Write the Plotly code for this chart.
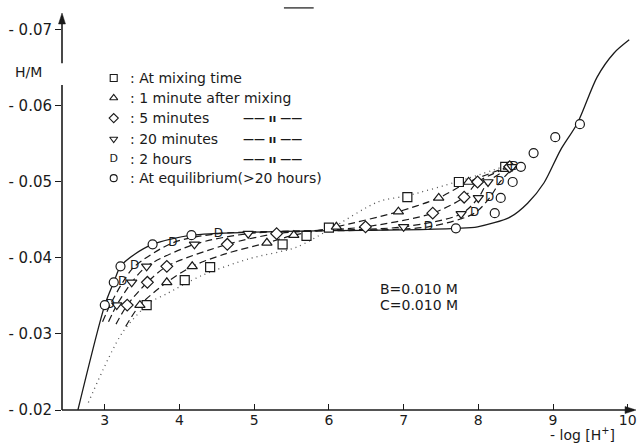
import plotly.graph_objects as go

# ---- measured data: -log[H+] (x) and H/M (y) ----
mix_x = [3.56, 4.07, 4.41, 5.38, 5.70, 6.00, 7.05, 7.74, 8.36]
mix_y = [-0.0338, -0.0371, -0.0388, -0.0418, -0.0429, -0.0440, -0.0480, -0.0500, -0.0520]

min1_x = [3.47, 3.83, 4.17, 5.17, 5.53, 6.10, 6.93, 7.47, 7.87, 8.40]
min1_y = [-0.0338, -0.0368, -0.0389, -0.0420, -0.0430, -0.0441, -0.0461, -0.0479, -0.0500, -0.0520]

min5_x = [3.30, 3.57, 3.83, 4.64, 5.30, 6.49, 7.39, 7.81, 7.99, 8.42]
min5_y = [-0.0338, -0.0368, -0.0389, -0.0418, -0.0432, -0.0441, -0.0459, -0.0480, -0.0500, -0.0520]

min20_x = [3.16, 3.36, 3.56, 4.20, 4.92, 7.00, 7.77, 8.00, 8.13, 8.45]
min20_y = [-0.0338, -0.0368, -0.0389, -0.0418, -0.0432, -0.0441, -0.0458, -0.0479, -0.0500, -0.0520]

hr2_x = [3.07, 3.24, 3.40, 3.91, 4.52, 7.33, 7.95, 8.15, 8.29, 8.48]
hr2_y = [-0.0338, -0.0368, -0.0389, -0.0420, -0.0432, -0.0441, -0.0459, -0.0479, -0.0500, -0.0520]

eq_x = [3.00, 3.12, 3.21, 3.64, 4.16, 7.70, 8.22, 8.30, 8.46, 8.57, 8.74, 9.03, 9.36]
eq_y = [-0.0338, -0.0368, -0.0389, -0.0418, -0.0430, -0.0439, -0.0459, -0.0479, -0.0500,
        -0.0520, -0.0538, -0.0559, -0.0576]

# ---- calculated curves ----
calc_mix_x = [2.78, 3.23, 3.60, 3.83, 4.30, 4.93, 5.56, 6.00, 6.66, 7.05, 7.74, 8.36]
calc_mix_y = [-0.0210, -0.0301, -0.0341, -0.0353, -0.0377, -0.0399, -0.0414, -0.0437,
              -0.0474, -0.0482, -0.0501, -0.0521]

calc_min1_x = [3.28, 3.47, 3.83, 4.17, 4.60, 5.17, 5.53, 6.10, 6.93, 7.47, 7.87, 8.40]
calc_min1_y = [-0.0310, -0.0338, -0.0368, -0.0389, -0.0405, -0.0420, -0.0430, -0.0441,
               -0.0461, -0.0479, -0.0500, -0.0520]

calc_min5_x = [3.15, 3.30, 3.57, 3.83, 4.64, 5.30, 6.49, 7.39, 7.81, 7.99, 8.42]
calc_min5_y = [-0.0313, -0.0338, -0.0368, -0.0389, -0.0418, -0.0432, -0.0441, -0.0459,
               -0.0480, -0.0500, -0.0520]

calc_min20_x = [3.05, 3.16, 3.36, 3.56, 4.20, 4.92, 7.00, 7.77, 8.00, 8.13, 8.45]
calc_min20_y = [-0.0316, -0.0338, -0.0368, -0.0389, -0.0418, -0.0432, -0.0441, -0.0458,
                -0.0479, -0.0500, -0.0520]

calc_hr2_x = [2.97, 3.07, 3.24, 3.40, 3.91, 4.52, 7.33, 7.95, 8.15, 8.29, 8.48]
calc_hr2_y = [-0.0316, -0.0338, -0.0368, -0.0389, -0.0420, -0.0432, -0.0441, -0.0459,
              -0.0479, -0.0500, -0.0520]

calc_eq_x = [2.64, 3.00, 3.12, 3.21, 3.40, 3.64, 4.16, 5.00, 6.00, 7.00, 7.70, 7.99,
             8.43, 8.66, 8.88, 9.10, 9.33, 9.59, 9.82, 10.02]
calc_eq_y = [-0.0200, -0.0338, -0.0368, -0.0389, -0.0405, -0.0418, -0.0430, -0.0434,
             -0.0436, -0.0437, -0.0439, -0.0441, -0.0454, -0.0472, -0.0499, -0.0542,
             -0.0578, -0.0638, -0.0670, -0.0687]

x_ticks = [3, 4, 5, 6, 7, 8, 9, 10]
y_ticks = [-0.07, -0.06, -0.05, -0.04, -0.03, -0.02]
y_ticktext = ["- 0.07", "- 0.06", "- 0.05", "- 0.04", "- 0.03", "- 0.02"]

legend_labels = [": At mixing time", ": 1 minute after mixing", ": 5 minutes",
                 ": 20 minutes", ": 2 hours", ": At equilibrium(>20 hours)"]

INK = "#1a1a1a"
FONT = "DejaVu Sans"
DASH = "7px,4px"

fig = go.Figure()

# calculated curves
def curve(x, y, dash, width=1.2, color=INK):
    fig.add_trace(go.Scatter(x=x, y=y, mode="lines", line=dict(color=color, width=width,
                             dash=dash, shape="spline", smoothing=0.8),
                             hoverinfo="skip", showlegend=False))

curve(calc_mix_x, calc_mix_y, "1px,4px", 1.3, "#555")
curve(calc_min1_x, calc_min1_y, DASH)
curve(calc_min5_x, calc_min5_y, DASH)
curve(calc_min20_x, calc_min20_y, DASH)
curve(calc_hr2_x, calc_hr2_y, DASH)
curve(calc_eq_x, calc_eq_y, "solid", 1.3)

# measured points
def points(x, y, symbol):
    fig.add_trace(go.Scatter(x=x, y=y, mode="markers",
                             marker=dict(symbol=symbol, size=9, color="white",
                                         line=dict(color=INK, width=1.2)),
                             showlegend=False))

points(mix_x, mix_y, "square")
points(min1_x, min1_y, "triangle-up")
points(min5_x, min5_y, "diamond")
points(min20_x, min20_y, "triangle-down")
fig.add_trace(go.Scatter(x=hr2_x, y=hr2_y, mode="text", text=["D"] * len(hr2_x),
                         textposition="middle center",
                         textfont=dict(family=FONT, size=12, color=INK), showlegend=False))
points(eq_x, eq_y, "circle")

# key symbols on an overlay axis spanning the plot area (0..1)
key_y = [0.8405, 0.790, 0.739, 0.686, 0.635, 0.587]
key_x = 0.0904
key_syms = ["square", "triangle-up", "diamond", "triangle-down", None, "circle"]
for ky, sym in zip(key_y, key_syms):
    if sym is None:
        fig.add_trace(go.Scatter(x=[key_x], y=[ky], mode="text", text=["D"],
                                 textposition="middle center",
                                 textfont=dict(family=FONT, size=11, color=INK),
                                 xaxis="x2", yaxis="y2", showlegend=False))
    else:
        fig.add_trace(go.Scatter(x=[key_x], y=[ky], mode="markers",
                                 marker=dict(symbol=sym, size=7, color="white",
                                             line=dict(color=INK, width=1.1)),
                                 xaxis="x2", yaxis="y2", showlegend=False))

annotations = []
for ky, lab in zip(key_y, legend_labels):
    annotations.append(dict(x=0.115, y=ky, xref="paper", yref="paper", text=lab,
                            showarrow=False, xanchor="left", yanchor="middle",
                            font=dict(family=FONT, size=14, color=INK)))
for ky in key_y[2:5]:
    annotations.append(dict(x=0.313, y=ky, xref="paper", yref="paper",
                            text="<b>—— ıı ——</b>", showarrow=False, xanchor="left",
                            yanchor="middle", font=dict(family=FONT, size=11, color=INK)))

annotations += [
    dict(x=0.553, y=0.306, xref="paper", yref="paper", text="B=0.010 M", showarrow=False,
         xanchor="left", yanchor="middle", font=dict(family=FONT, size=14, color=INK)),
    dict(x=0.553, y=0.266, xref="paper", yref="paper", text="C=0.010 M", showarrow=False,
         xanchor="left", yanchor="middle", font=dict(family=FONT, size=14, color=INK)),
    dict(x=-0.059, y=0.856, xref="paper", yref="paper", text="H/M", showarrow=False,
         xanchor="center", yanchor="middle", font=dict(family=FONT, size=14, color=INK)),
    dict(x=0.91, y=-0.062, xref="paper", yref="paper", text="- log [H<sup>+</sup>]",
         showarrow=False, xanchor="center", yanchor="middle",
         font=dict(family=FONT, size=14, color=INK)),
]

# arrowhead sizes in paper units (plot area is 575 x 395 px)
PX, PY = 1 / 575, 1 / 395
shapes = [
    dict(type="line", xref="paper", yref="paper", x0=0, x1=1, y0=0, y1=0,
         line=dict(color=INK, width=1.6)),
    dict(type="line", xref="paper", yref="paper", x0=0, x1=0, y0=0, y1=0.823,
         line=dict(color=INK, width=1.6)),
    dict(type="line", xref="paper", yref="paper", x0=0, x1=0, y0=0.878, y1=0.99,
         line=dict(color=INK, width=1.6)),
    # arrowhead on the vertical axis
    dict(type="path", xref="paper", yref="paper",
         path=f"M {-3.5*PX} {1 - 9*PY} L 0 {1 + 2*PY} L {3.5*PX} {1 - 9*PY} Z",
         fillcolor=INK, line=dict(color=INK, width=0.5)),
    # arrowhead on the horizontal axis
    dict(type="path", xref="paper", yref="paper",
         path=f"M {1 - 9*PX} {3.5*PY} L {1 + 2*PX} 0 L {1 - 9*PX} {-3.5*PY} Z",
         fillcolor=INK, line=dict(color=INK, width=0.5)),
    dict(type="line", xref="paper", yref="paper", x0=0.388, x1=0.44, y0=1.018, y1=1.018,
         line=dict(color="#444", width=1.5)),
]

fig.update_layout(
    width=642, height=444,
    margin=dict(l=62, r=5, t=15, b=34),
    paper_bgcolor="white", plot_bgcolor="white",
    font=dict(family=FONT, size=14, color=INK),
    showlegend=False,
    xaxis=dict(range=[2.427, 10.084], tickvals=x_ticks, ticks="inside", ticklen=6,
               tickwidth=1.4, tickcolor=INK, showgrid=False, zeroline=False,
               showline=False, tickfont=dict(family=FONT, size=14, color=INK)),
    yaxis=dict(range=[-0.02, -0.07197], tickvals=y_ticks, ticktext=y_ticktext,
               ticks="outside", ticklen=6, tickwidth=1.4, tickcolor=INK,
               showgrid=False, zeroline=False, showline=False,
               tickfont=dict(family=FONT, size=15, color=INK)),
    xaxis2=dict(range=[0, 1], overlaying="x", visible=False, fixedrange=True),
    yaxis2=dict(range=[0, 1], overlaying="y", visible=False, fixedrange=True),
    annotations=annotations,
    shapes=shapes,
)

fig.write_html("out.html")
